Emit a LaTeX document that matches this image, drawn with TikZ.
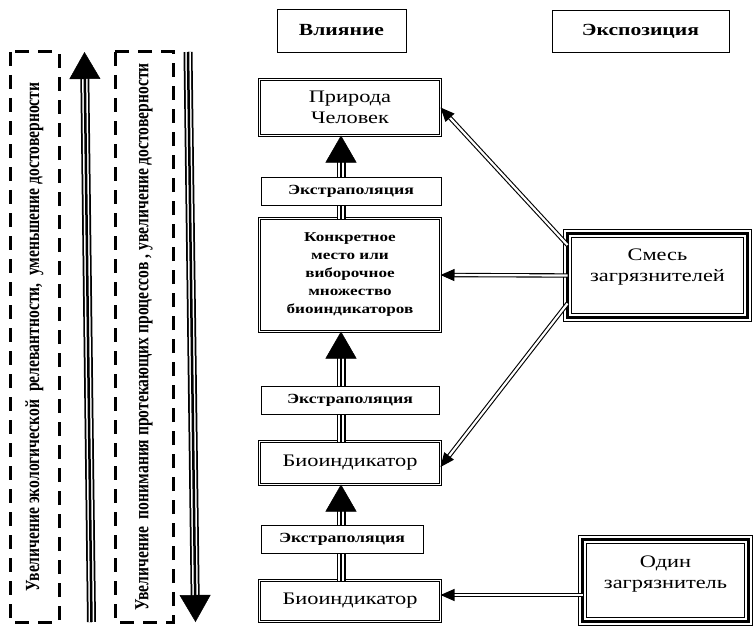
\documentclass[tikz,border=0pt]{standalone}
\usepackage{fontspec}
\setmainfont{Liberation Serif}
\newfontfamily\widefont[FakeStretch=1.27]{Liberation Serif}
\newfontfamily\tallfont[FakeStretch=0.78]{Liberation Serif}
\usetikzlibrary{arrows.meta}
\tikzset{
  headbox/.style={draw, line width=0.8pt, inner sep=0pt, outer sep=0pt, font=\widefont\bfseries\fontsize{17}{20}\selectfont},
  dbox/.style={draw, line width=0.8pt, double, double distance=1.3pt, fill=white, inner sep=0pt, outer sep=0pt, align=center, font=\widefont\fontsize{17.6}{21}\selectfont},
  tbox/.style={draw, line width=9pt, fill=white, postaction={draw=white, line width=6.5pt}, postaction={draw=black, line width=3.5pt}, inner sep=0pt, outer sep=0pt, align=center, font=\widefont\fontsize{17.6}{21}\selectfont},
  extbox/.style={draw, line width=0.8pt, fill=white, inner sep=0pt, outer sep=0pt, minimum height=28pt, font=\widefont\bfseries\fontsize{14}{17.5}\selectfont},
  dashbox/.style={draw, line width=3pt, dash pattern=on 14pt off 9pt, inner sep=0pt, rotate=90, font=\tallfont\bfseries\fontsize{20}{22}\selectfont},
  shaft/.style={line width=9pt, shorten >=#1, postaction={draw=white, line width=5.5pt, shorten >=#1}, postaction={draw=black, line width=2.5pt, shorten >=#1}},
  shaft/.default=25pt,
  bigtip/.style={-{Triangle[length=27pt,width=31pt]}, line width=0.5pt},
  link/.style={double, line width=1.1pt, double distance=2.2pt, -{Triangle[length=14pt,width=12pt]}},
}

\begin{document}
\begin{tikzpicture}[x=1pt, y=-1pt]
  \useasboundingbox (0,0) rectangle (753,626);
  % left column: two trends
  \node[dashbox, minimum width=570pt, minimum height=49pt] (relev) at (34.5,337) {Увеличение экологической\ \ релевантности,\ \ уменьшение достоверности};
  \node[dashbox, minimum width=570pt, minimum height=58pt] (underst) at (144,337) {Увеличение\ \ понимания протекающих процессов , увеличение достоверности};
  \coordinate (upbot) at (91.5,622);
  \coordinate (uptop) at (84.5,52);
  \coordinate (dntop) at (188,52);
  \coordinate (dnbot) at (195.5,622);
  \draw[shaft] (upbot) -- (uptop);
  \draw[bigtip] (upbot) -- (uptop);
  \draw[shaft] (dntop) -- (dnbot);
  \draw[bigtip] (dntop) -- (dnbot);

  % headers
  \node[headbox, minimum width=129pt, minimum height=43pt] (effect) at (341.5,30.5) {Влияние};
  \node[headbox, minimum width=177pt, minimum height=42pt] (expos) at (640.5,31) {Экспозиция};

  % effect column
  \node[dbox, minimum width=181pt, minimum height=56pt] (nature) at (350,107.5) {Природа\\Человек};
  \node[dbox, minimum width=181pt, minimum height=113pt, font=\widefont\bfseries\fontsize{13.5}{18}\selectfont] (site) at (350,275) {Конкретное\\место или\\виборочное\\множество\\биоиндикаторов};
  \node[dbox, minimum width=181pt, minimum height=43pt] (bioup) at (350,463) {Биоиндикатор};
  \node[dbox, minimum width=181pt, minimum height=41pt] (biolow) at (350,601) {Биоиндикатор};

  % exposure column
  \node[tbox, minimum width=180pt, minimum height=84pt] (mix) at (657.5,275.5) {Смесь\\загрязнителей\\[0pt]\mbox{}};
  \node[tbox, minimum width=166pt, minimum height=82pt] (single) at (665.5,580.5) {Один\\загрязнитель\\[-4pt]\mbox{}};

  \draw[shaft] ([xshift=-9pt]site.north) -- ([xshift=-9pt]nature.south);
  \draw[bigtip] ([xshift=-9pt]site.north) -- ([xshift=-9pt]nature.south);
  \draw[shaft] ([xshift=-9pt]bioup.north) -- ([xshift=-9pt]site.south);
  \draw[bigtip] ([xshift=-9pt]bioup.north) -- ([xshift=-9pt]site.south);
  \draw[shaft] ([xshift=-9pt]biolow.north) -- ([xshift=-9pt]bioup.south);
  \draw[bigtip] ([xshift=-9pt]biolow.north) -- ([xshift=-9pt]bioup.south);

  \node[extbox, minimum width=180pt] (extra1) at (351,191) {Экстраполяция};
  \node[extbox, minimum width=178pt] (extra2) at (350,400) {Экстраполяция};
  \node[extbox, minimum width=162pt] (extra3) at (342,539) {\raisebox{-4pt}{Экстраполяция}};

  \draw[link] ([yshift=30.5pt]mix.west) -- (nature.east);
  \draw[link] (mix.west) -- (site.east);
  \draw[link] ([yshift=-28pt]mix.west) -- ([yshift=-4pt]bioup.east);
  \draw[link] ([yshift=-14.5pt]single.west) -- ([yshift=-14.5pt]single.west -| biolow.east);
\end{tikzpicture}
\end{document}
